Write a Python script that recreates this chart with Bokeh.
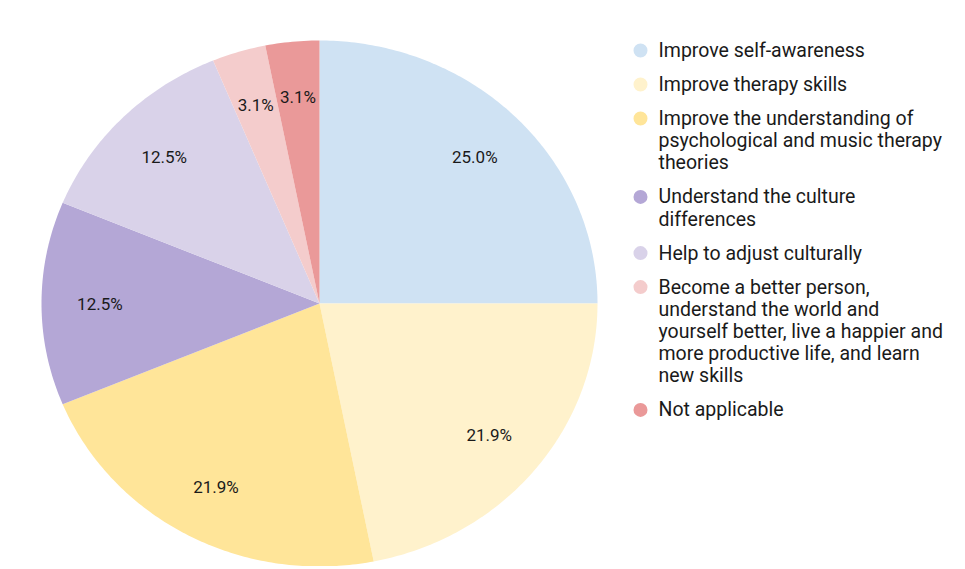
import numpy as np
from bokeh.plotting import figure
from bokeh.models import Range1d
from bokeh.core.properties import value
from bokeh.embed import file_html
from bokeh.resources import INLINE

# ---- data ----
categories = [
    "Improve self-awareness",
    "Improve therapy skills",
    "Improve the understanding of\npsychological and music therapy\ntheories",
    "Understand the culture\ndifferences",
    "Help to adjust culturally",
    "Become a better person,\nunderstand the world and\nyourself better, live a happier and\nmore productive life, and learn\nnew skills",
    "Not applicable",
]
counts = [8, 7, 7, 4, 4, 1, 1]
colors = ["#cfe2f3", "#fff2cc", "#ffe599", "#b4a7d6", "#d9d2e9", "#f4cccc", "#ea9999"]

# ---- layout constants (pixels) ----
W, H = 960, 566
CX, CY = 319, 303          # pie centre from top-left of the canvas
RX, RY = 278, 263          # pie radii
FONT = "Roboto"

p = figure(width=W, height=H, output_backend="svg", toolbar_location=None,
           x_range=Range1d(-CX, W - CX), y_range=Range1d(-(H - CY), CY),
           min_border=0, background_fill_color="white", border_fill_color="white")
p.axis.visible = False
p.grid.visible = False
p.outline_line_color = None

total = float(sum(counts))
fracs = np.array(counts) / total
ends = np.cumsum(fracs)
starts = ends - fracs

xs, ys, lx, ly, labels = [], [], [], [], []
for s, e, f in zip(starts, ends, fracs):
    a0 = np.pi / 2 - 2 * np.pi * s
    a1 = np.pi / 2 - 2 * np.pi * e
    n = max(int(abs(a1 - a0) * 80), 4)
    t = np.linspace(a0, a1, n)
    xs.append([0.0] + list(RX * np.cos(t)))
    ys.append([0.0] + list(RY * np.sin(t)))
    am = (a0 + a1) / 2
    lx.append(0.79 * RX * np.cos(am))
    ly.append(0.79 * RY * np.sin(am))
    labels.append(f"{f * 100:.1f}%")

p.patches(xs, ys, fill_color=colors, line_color=None)
p.text(lx, ly, text=labels, text_align="center", text_baseline="middle",
       text_font=value(FONT), text_font_size="17px", text_color="#1a1a1a")

# ---- legend ----
LEG_X = 658 - CX          # text left edge
DOT_X = 640 - CX
TOP = 50                  # first line centre (from top)
LINE = 22.2
GAP = 34
tx, ty, tt = [], [], []
dx, dy = [], []
y = TOP
for cat in categories:
    lines = cat.split("\n")
    dx.append(DOT_X)
    dy.append(CY - y)
    for i, ln in enumerate(lines):
        tx.append(LEG_X)
        ty.append(CY - (y + i * LINE))
        tt.append(ln)
    y += (len(lines) - 1) * LINE + GAP

p.scatter(dx, dy, size=14, marker="circle", fill_color=colors, line_color=None)
p.text(tx, ty, text=tt, text_align="left", text_baseline="middle",
       text_font=value(FONT), text_font_size="19.5px", text_color="#1a1a1a")

open("out.html", "w").write(file_html(p, INLINE))
